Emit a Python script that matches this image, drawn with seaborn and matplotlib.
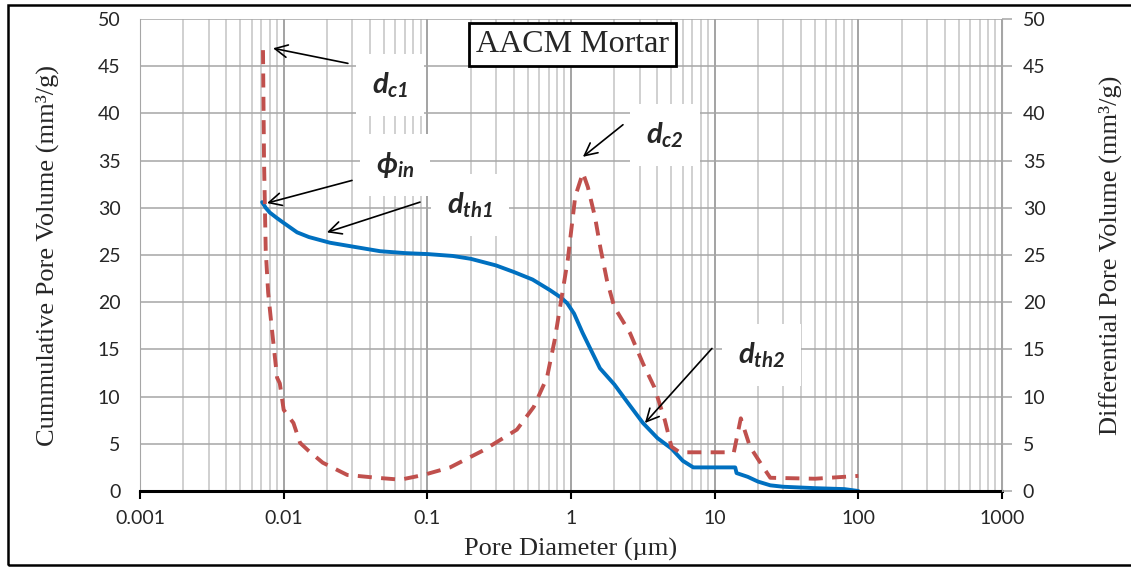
import numpy as np
import pandas as pd
import matplotlib
matplotlib.use("Agg")
import matplotlib.pyplot as plt
import seaborn as sns
from matplotlib.patches import Rectangle

# ---- data ----
cum_d = [0.00708, 0.0075, 0.008, 0.009, 0.01, 0.0124, 0.015, 0.021, 0.03, 0.047, 0.07,
         0.1, 0.15, 0.2, 0.3, 0.4, 0.54, 0.71, 0.85, 0.94, 1.05, 1.2, 1.36, 1.59, 2.0,
         2.5, 3.17, 4.0, 5.0, 6.0, 7.1, 10, 13.9, 14.2, 17, 20, 24.4, 30, 50, 80, 100]
cum_v = [30.6, 30.0, 29.5, 28.9, 28.4, 27.4, 26.9, 26.3, 25.9, 25.4, 25.2,
         25.1, 24.9, 24.6, 23.9, 23.2, 22.4, 21.3, 20.5, 19.9, 18.8, 16.8, 15.1, 13.0, 11.3,
         9.3, 7.2, 5.6, 4.5, 3.2, 2.5, 2.5, 2.5, 1.9, 1.5, 1.0, 0.6, 0.45, 0.3, 0.2, 0.0]

diff_d = [0.00718, 0.0073, 0.0075, 0.0078, 0.0083, 0.009, 0.0094, 0.01, 0.0117, 0.013,
          0.0148, 0.0187, 0.0277, 0.0446, 0.065, 0.094, 0.144, 0.245, 0.42, 0.55, 0.68,
          0.77, 0.95, 1.07, 1.21, 1.31, 1.47, 1.6, 1.78, 2.0, 2.38, 2.58, 3.17, 3.8, 4.5,
          5.0, 5.7, 13.6, 15.2, 17.6, 21.8, 24.4, 50, 100]
diff_v = [46.7, 35.0, 25.5, 21.0, 17.0, 12.0, 11.4, 8.6, 7.2, 5.1,
          4.3, 3.0, 1.7, 1.4, 1.2, 1.7, 2.5, 4.3, 6.5, 8.9, 12.0,
          16.0, 24.5, 31.2, 33.7, 32.2, 29.0, 25.8, 22.3, 19.5, 17.6, 16.7, 13.5, 11.0, 7.5,
          4.7, 4.1, 4.1, 7.7, 4.7, 2.5, 1.4, 1.3, 1.6]

x_ticks = [0.001, 0.01, 0.1, 1, 10, 100, 1000]
x_tick_labels = ["0.001", "0.01", "0.1", "1", "10", "100", "1000"]
y_ticks = [0, 5, 10, 15, 20, 25, 30, 35, 40, 45, 50]

title_text = "AACM Mortar"
x_label = "Pore Diameter (µm)"
y_label_left = "Cummulative Pore Volume (mm³/g)"
y_label_right = "Differential Pore Volume (mm³/g)"

# annotations: (label, text xy, arrow tail, arrow head)
annotations = [
    (r"$d_{c1}$", (0.055, 43.0), (0.028, 45.3), (0.00844, 46.9)),
    (r"$\phi_{in}$", (0.0596, 34.5), (0.0299, 32.9), (0.00766, 30.5)),
    (r"$d_{th1}$", (0.198, 30.3), (0.0889, 30.6), (0.020, 27.4)),
    (r"$d_{c2}$", (4.51, 37.7), (2.30, 38.8), (1.21, 35.4)),
    (r"$d_{th2}$", (21.3, 14.4), (9.57, 15.1), (3.27, 7.2)),
]

# ---- style ----
sns.set_style("white")
plt.rcParams["font.family"] = ["Lato", "DejaVu Sans"]
plt.rcParams["mathtext.fontset"] = "custom"
plt.rcParams["mathtext.it"] = "Lato:italic:bold"
plt.rcParams["mathtext.rm"] = "Lato:italic:bold"
plt.rcParams["mathtext.bf"] = "Lato:italic:bold"
plt.rcParams["mathtext.fallback"] = "stixsans"

BLUE = "#0070C0"
RED = "#C0504D"

fig = plt.figure(figsize=(11.31, 5.69), dpi=100)
ax = fig.add_axes([140 / 1131, (569 - 491) / 569, 862 / 1131, 472 / 569])
ax2 = ax.twinx()

df_cum = pd.DataFrame({"d": cum_d, "v": cum_v})
df_diff = pd.DataFrame({"d": diff_d, "v": diff_v})

sns.lineplot(data=df_cum, x="d", y="v", ax=ax, color=BLUE, lw=2.8, estimator=None, zorder=3)
sns.lineplot(data=df_diff, x="d", y="v", ax=ax2, color=RED, lw=2.8, estimator=None,
             linestyle=(0, (3.6, 2.4)), zorder=3)

for a in (ax, ax2):
    a.set_xscale("log")
    a.set_xlim(0.001, 1000)
    a.set_ylim(0, 50)
    a.set_yticks(y_ticks)
    a.set_xlabel("")
    a.set_ylabel("")

ax.set_xticks(x_ticks)
ax.set_xticklabels(x_tick_labels)
ax.xaxis.set_minor_locator(matplotlib.ticker.LogLocator(base=10, subs=np.arange(2, 10)))
ax.xaxis.set_minor_formatter(matplotlib.ticker.NullFormatter())

ax.grid(True, which="major", axis="x", color="#8a8a8a", lw=1.1)
ax.grid(True, which="minor", axis="x", color="#c4c4c4", lw=1.1)
ax.grid(True, which="major", axis="y", color="#a6a6a6", lw=1.1)
ax.set_axisbelow(True)

ax.tick_params(axis="x", which="major", direction="out", length=6, width=1.5,
               color="black", labelsize=14, pad=8, bottom=True)
ax.tick_params(axis="x", which="minor", length=0)
ax.tick_params(axis="y", which="both", length=0, labelsize=14, pad=14, left=True)
ax2.tick_params(axis="y", which="both", direction="out", length=7, width=1.1,
                color="#a6a6a6", labelsize=14, pad=8, right=True)

for s in ("top",):
    ax.spines[s].set_visible(False)
    ax2.spines[s].set_visible(False)
ax.spines["left"].set_color("#a6a6a6")
ax2.spines["left"].set_visible(False)
ax.spines["right"].set_visible(False)
ax2.spines["right"].set_color("#a6a6a6")
ax2.spines["bottom"].set_visible(False)
ax.spines["bottom"].set_color("black")
ax.spines["bottom"].set_linewidth(2.2)
ax.spines["bottom"].set_zorder(5)

serif = ["Liberation Serif", "DejaVu Serif"]
ax.set_xlabel(x_label, fontsize=19, family=serif, va="center", ha="center")
ax.xaxis.set_label_coords(0.5, -0.123)
ax.set_ylabel(y_label_left, fontsize=19, family=serif, va="center", ha="center")
ax.yaxis.set_label_coords(-0.107, 0.5)
ax2.set_ylabel(y_label_right, fontsize=19, family=serif, rotation=90, va="center", ha="center")
ax2.yaxis.set_label_coords(1.126, 0.5)

ax2.text(1.03, 47.3, title_text, fontsize=23, family=serif, ha="center", va="center",
         zorder=10, bbox=dict(boxstyle="square,pad=0.22", fc="white", ec="black", lw=2))

for lab, txy, tail, head in annotations:
    ax2.text(txy[0], txy[1], lab, fontsize=21, ha="center", va="center", zorder=8,
             bbox=dict(boxstyle="square,pad=0.55", fc="white", ec="none"))
    ax2.annotate("", xy=head, xytext=tail, zorder=9,
                 arrowprops=dict(arrowstyle="->,head_length=0.9,head_width=0.45",
                                 color="black", lw=1.2, shrinkA=0, shrinkB=0))

fig.patches.append(Rectangle((8 / 1131, 4 / 569), 1.2, 560 / 569, transform=fig.transFigure,
                             fill=False, ec="black", lw=1.8, zorder=0))

fig.savefig("out.png", dpi=100)
